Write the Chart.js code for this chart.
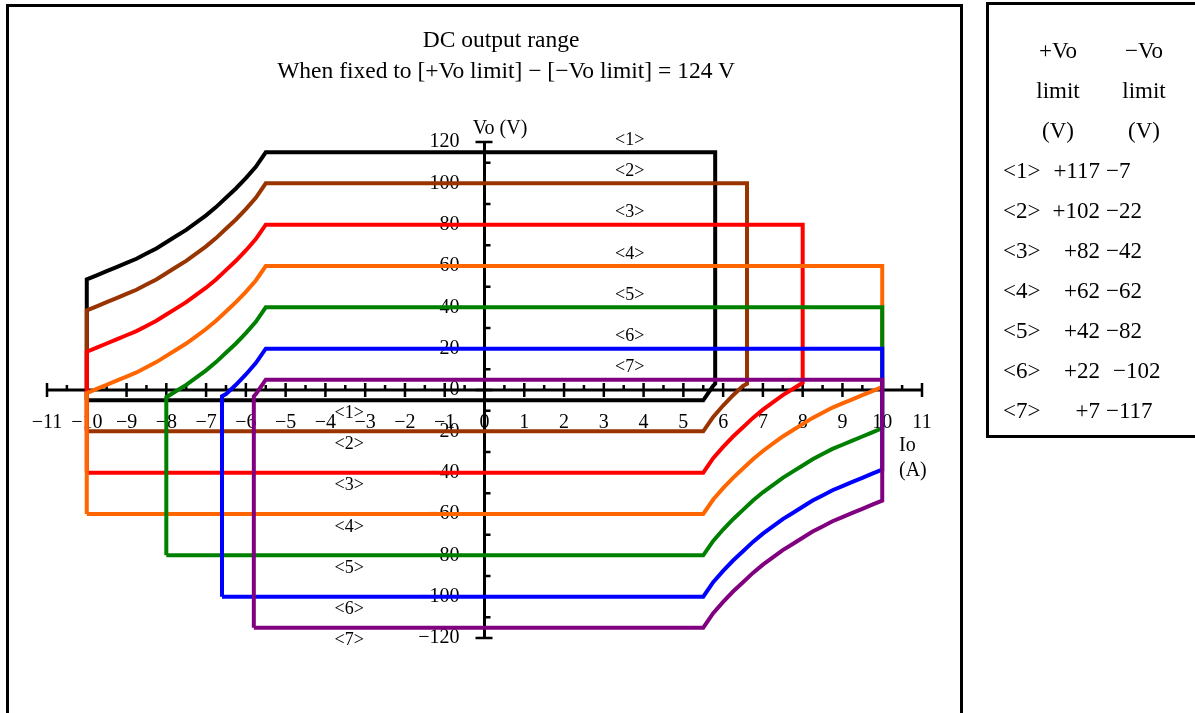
<!DOCTYPE html>
<html>
<head>
<meta charset="utf-8">
<script src="https://cdn.jsdelivr.net/npm/chart.js@4.4.1/dist/chart.umd.min.js"></script>
<style>
  html, body { margin: 0; padding: 0; background: #fff; }
  body { width: 1195px; height: 713px; position: relative; overflow: hidden;
         font-family: "Liberation Serif", "Times New Roman", serif; color: #000; }
  #frame { position: absolute; left: 6px; top: 4px; width: 957px; height: 800px;
           border: 3px solid #000; box-sizing: border-box; }
  #plot { position: absolute; left: 0; top: 0; }
  .t { position: absolute; white-space: pre; line-height: 1; }
  .c { transform: translate(-50%, -50%); }
  .l { transform: translate(0, -50%); }
  .r { transform: translate(-100%, -50%); }
  #table { position: absolute; left: 986px; top: 2px; width: 260px; height: 436px;
           border: 3px solid #000; box-sizing: border-box; }
</style>
</head>
<body>
<div id="frame"></div>
<canvas id="plot" width="1195" height="713"></canvas>
<div class="t c" style="left:501px;top:40px;font-size:23.5px">DC output range</div>
<div class="t c" style="left:506px;top:71px;font-size:23.5px">When fixed to [+Vo limit] − [−Vo limit] = 124 V</div>
<div class="t c" style="left:500px;top:127px;font-size:20px">Vo (V)</div>
<div class="t l" style="left:899px;top:444px;font-size:20px">Io</div>
<div class="t l" style="left:899px;top:469px;font-size:20px">(A)</div>
<div id="table"></div>

<script>
// Ranges <1>..<7> as drawn in the plot
const rangeNames = ['<1>', '<2>', '<3>', '<4>', '<5>', '<6>', '<7>'];
const rangeColors = ['#000000', '#993300', '#ff0000', '#ff6600', '#008000', '#0000ff', '#800080'];
const plusLimitV = [115, 100, 80, 60, 40, 20, 5];
const minusLimitV = [-5, -20, -40, -60, -80, -100, -115];
const sourceMaxA = [5.8, 6.6, 8, 10, 10, 10, 10];   // right edge of each range
const sinkMaxA = [10, 10, 10, 10, 8, 6.6, 5.8];     // left edge (as -A)
const rightCornerV = [3, 3, 3.5, 1.5, -18.5, -38.5, -53.5];
const leftCornerV = [53.5, 38.5, 18.5, -1.5, -3.5, -3, -3];

// sink curve: rise above the flat limit from the 5.5 A knee
const kneeA = 5.5;
const curveA = [5.75, 6, 6.25, 6.5, 6.75, 7, 7.25, 7.5, 7.75, 8, 8.25, 8.5, 8.75, 9, 9.25, 9.5, 9.75, 10];
const curveRiseV = [7, 12.5, 17.5, 22, 26.5, 30.5, 34, 37.5, 40.5, 43.5, 46.5, 49, 51.5, 53.5, 55.5, 57.5, 59.5, 61.5];

// table on the right
const tablePlus = ['+117', '+102', '+82', '+62', '+42', '+22', '+7'];
const tableMinus = ['−7', '−22', '−42', '−62', '−82', '−102', '−117'];

const xTickMin = -11, xTickMax = 11;
const yTickMin = -120, yTickMax = 120;

const SERIF = '"Liberation Serif", "Times New Roman", serif';
const minus = (v) => v < 0 ? '\u2212' + Math.abs(v) : String(v);

function outline(k) {
  const T = plusLimitV[k], B = minusLimitV[k], R = sourceMaxA[k], L = sinkMaxA[k];
  const pts = [{x: -L, y: B}, {x: -L, y: leftCornerV[k]}];
  for (let i = curveA.length - 1; i >= 0; i--) {
    if (curveA[i] < L) pts.push({x: -curveA[i], y: T - curveRiseV[i]});
  }
  pts.push({x: -kneeA, y: T});
  pts.push({x: R, y: T});
  pts.push({x: R, y: rightCornerV[k]});
  for (let i = curveA.length - 1; i >= 0; i--) {
    if (curveA[i] < R) pts.push({x: curveA[i], y: B + curveRiseV[i]});
  }
  pts.push({x: kneeA, y: B});
  pts.push({x: -L, y: B});
  return pts;
}

const datasets = rangeNames.map((name, k) => ({
  label: name,
  data: outline(k),
  showLine: true,
  borderColor: rangeColors[k],
  backgroundColor: rangeColors[k],
  borderWidth: 4,
  pointRadius: 0,
  fill: false,
  order: -k
}));

// axis lines + tick marks crossing at the origin
const axesPlugin = {
  id: 'axes',
  beforeDatasetsDraw(chart) {
    const {ctx, scales: {x, y}} = chart;
    const x0 = x.getPixelForValue(0), y0 = y.getPixelForValue(0);
    ctx.save();
    ctx.strokeStyle = '#000';
    ctx.lineWidth = 3;
    ctx.beginPath();
    ctx.moveTo(x.getPixelForValue(xTickMin), y0); ctx.lineTo(x.getPixelForValue(xTickMax), y0);
    ctx.moveTo(x0, y.getPixelForValue(yTickMax)); ctx.lineTo(x0, y.getPixelForValue(yTickMin));
    ctx.stroke();
    ctx.lineWidth = 2.5;
    ctx.beginPath();
    for (let v = xTickMin; v <= xTickMax; v += 0.5) {
      const px = x.getPixelForValue(v);
      if (Number.isInteger(v)) { ctx.moveTo(px, y0 - 7); ctx.lineTo(px, y0 + 7); }
      else { ctx.moveTo(px, y0 - 5); ctx.lineTo(px, y0); }
    }
    for (let v = yTickMin; v <= yTickMax; v += 10) {
      const py = y.getPixelForValue(v);
      if (v % 20 === 0) { ctx.moveTo(x0 - 9, py); ctx.lineTo(x0 + 8, py); }
      else { ctx.moveTo(x0, py); ctx.lineTo(x0 + 6, py); }
    }
    ctx.stroke();
    ctx.restore();
  }
};

// <n> tags above the +limit and below the -limit
const tagPlugin = {
  id: 'tags',
  afterDatasetsDraw(chart) {
    const {ctx, scales: {x, y}} = chart;
    ctx.save();
    ctx.fillStyle = '#000';
    ctx.font = '18px ' + SERIF;
    ctx.textAlign = 'center';
    ctx.textBaseline = 'middle';
    rangeNames.forEach((name, k) => {
      ctx.fillText(name, x.getPixelForValue(3.65), y.getPixelForValue(plusLimitV[k]) - 12);
      ctx.fillText(name, x.getPixelForValue(-3.4), y.getPixelForValue(minusLimitV[k]) + 13);
    });
    ctx.restore();
  }
};

new Chart(document.getElementById('plot'), {
  type: 'scatter',
  data: { datasets },
  options: {
    responsive: false,
    animation: false,
    layout: { padding: { left: 47, right: 273, top: 142, bottom: 75 } },
    plugins: { legend: { display: false }, tooltip: { enabled: false }, title: { display: false } },
    scales: {
      x: {
        type: 'linear', min: xTickMin, max: xTickMax, position: { y: 0 },
        grid: { display: false, drawTicks: false }, border: { display: false },
        ticks: { stepSize: 1, autoSkip: false, maxRotation: 0, padding: 21, color: '#000',
                 font: { family: SERIF, size: 20 }, callback: (v) => minus(v) }
      },
      y: {
        type: 'linear', min: yTickMin, max: yTickMax, position: { x: 0 },
        grid: { display: false, drawTicks: false }, border: { display: false },
        ticks: { stepSize: 20, autoSkip: false, color: '#000',
                 font: { family: SERIF, size: 20 }, callback: (v) => minus(v) + '     ' }
      }
    }
  },
  plugins: [axesPlugin, tagPlugin]
});

// right-hand table
const tbl = document.getElementById('table');
function put(text, cls, left, top) {
  const d = document.createElement('div');
  d.className = 't ' + cls;
  d.style.left = (left - 986) + 'px';
  d.style.top = (top - 2) + 'px';
  d.style.fontSize = '23px';
  d.textContent = text;
  tbl.appendChild(d);
}
[['+Vo', '−Vo', 47], ['limit', 'limit', 87], ['(V)', '(V)', 127]].forEach(([a, b, yy]) => {
  put(a, 'c', 1055, yy);
  put(b, 'c', 1141, yy);
});
rangeNames.forEach((name, k) => {
  const yy = 167 + k * 40;
  put(name, 'l', 1000, yy);
  put(tablePlus[k], 'r', 1097, yy);
  put(tableMinus[k], 'l', k === 5 ? 1110 : 1103, yy);
});
</script>
</body>
</html>
